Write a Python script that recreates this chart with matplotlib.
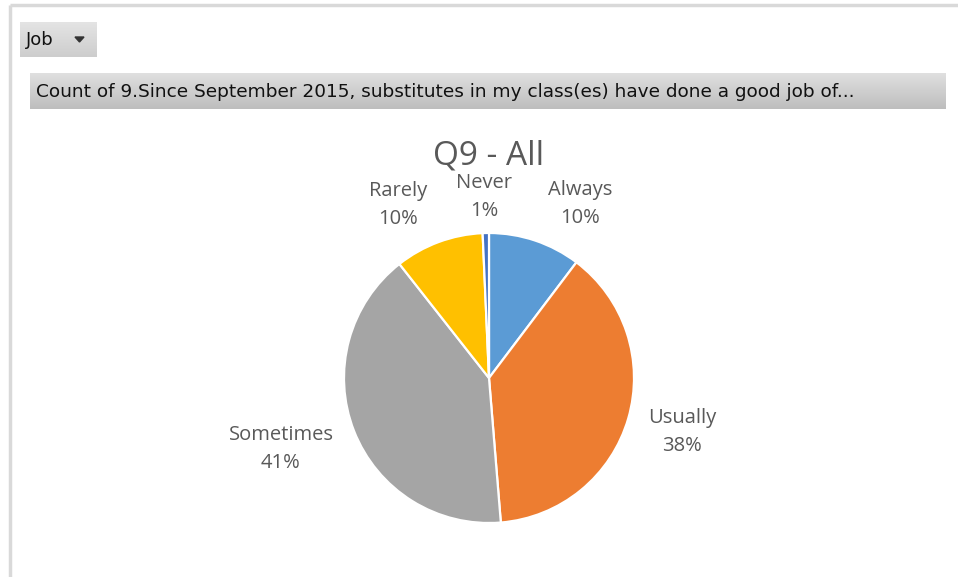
import numpy as np
import matplotlib
matplotlib.use("Agg")
import matplotlib.pyplot as plt
from matplotlib.patches import Polygon

# ---- data ----
categories = ["Always", "Usually", "Sometimes", "Rarely", "Never"]
shares = [10.3, 38.4, 40.7, 9.9, 0.7]
colors = ["#5B9BD5", "#ED7D31", "#A5A5A5", "#FFC000", "#4472C4"]
chart_title = "Q9 - All"
filter_label = "Job"
field_label = "Count of 9.Since September 2015, substitutes in my class(es) have done a good job of..."

W, H = 958, 577
fig = plt.figure(figsize=(W / 100, H / 100), dpi=100)
ax = fig.add_axes([0, 0, 1, 1])
ax.set_xlim(0, W)
ax.set_ylim(0, H)
ax.axis("off")

def py(y):
    return H - y

# frame lines
ax.plot([10, W], [py(5), py(5)], color="#d9d9d9", lw=2.5, solid_capstyle="butt")
ax.plot([10, 10], [py(5), py(H)], color="#d9d9d9", lw=2.5, solid_capstyle="butt")

def gradient_box(x0, y0, x1, y1, ctop, cbot, z=1):
    ct = np.array(matplotlib.colors.to_rgb(ctop))
    cb = np.array(matplotlib.colors.to_rgb(cbot))
    t = np.linspace(0, 1, 64)[:, None]
    img = ct * (1 - t) + cb * t
    img = img[:, None, :]
    ax.imshow(img, extent=(x0, x1, py(y1), py(y0)), aspect="auto", zorder=z,
              interpolation="bilinear")

# Job button
gradient_box(20, 22, 97, 57, "#e4e4e4", "#cdcdcd")
ax.text(26, py(40), filter_label, fontsize=13, family="DejaVu Sans", color="#111111",
        va="center", ha="left", zorder=3)
ax.add_patch(Polygon([[75, py(37)], [84, py(37)], [79.5, py(42)]], closed=True,
                     color="#333333", zorder=3))

# field bar
gradient_box(30, 73, 946, 109, "#e0e0e0", "#bdbdbd")
ax.text(36, py(92), field_label, fontsize=13.3, family="DejaVu Sans", color="#111111",
        va="center", ha="left", zorder=3)

# pie
cx, cy, R = 489, py(378), 145
wedges, _ = ax.pie(shares, colors=colors, startangle=90, counterclock=False,
                   center=(cx, cy), radius=R, frame=False,
                   wedgeprops=dict(edgecolor="white", linewidth=1.6))
ax.set_xlim(0, W)
ax.set_ylim(0, H)
ax.set_aspect("auto")

ax.text(cx, py(156), chart_title, fontsize=24, family="Open Sans", color="#595959",
        ha="center", va="center")

# label layout (pixel positions of label centres)
label_pos = [(580, 204), (682, 432), (281, 449), (398, 205), (484, 197)]
for cat, v, (lx, ly) in zip(categories, shares, label_pos):
    ax.text(lx, py(ly), f"{cat}\n{v:.0f}%", fontsize=14.5, family="Open Sans",
            color="#595959", ha="center", va="center", linespacing=1.5)

fig.savefig("out.png", dpi=100)
